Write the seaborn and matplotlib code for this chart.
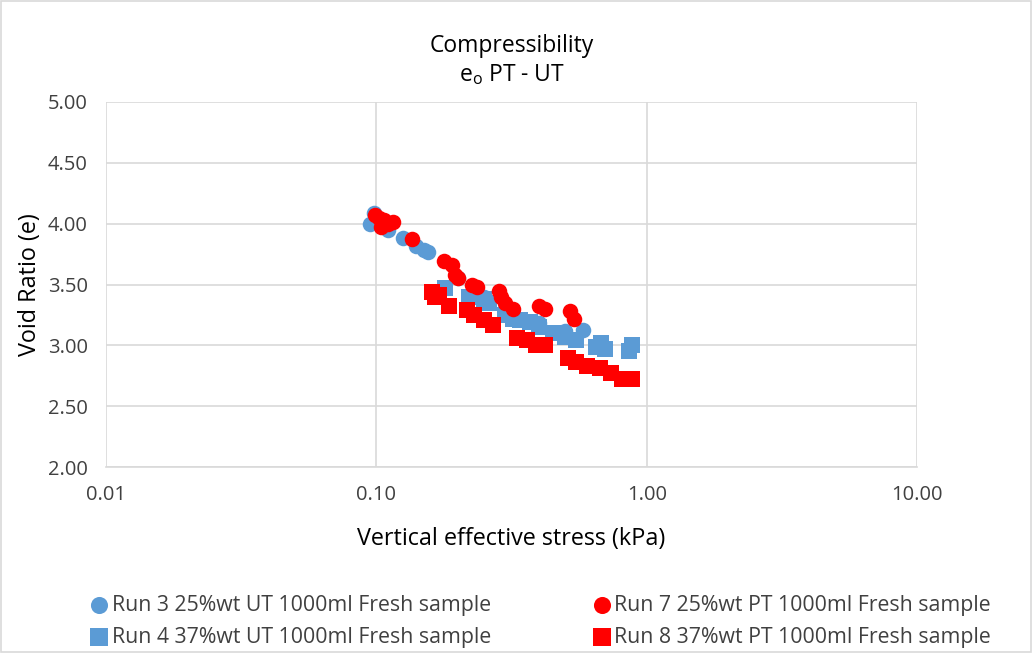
import numpy as np
import pandas as pd
import matplotlib
matplotlib.use("Agg")
import matplotlib.pyplot as plt
import seaborn as sns
from matplotlib.ticker import FixedLocator, FuncFormatter, NullLocator

# Run 3 25%wt UT (blue circles)
run3_x = [0.095, 0.098, 0.103, 0.11, 0.125, 0.14, 0.15, 0.155, 0.2, 0.25, 0.3, 0.4, 0.5, 0.58]
run3_e = [4.00, 4.09, 4.02, 3.95, 3.88, 3.82, 3.78, 3.77, 3.55, 3.40, 3.30, 3.18, 3.12, 3.13]

# Run 4 37%wt UT (blue squares)
run4_x = [0.18, 0.22, 0.25, 0.26, 0.3, 0.32, 0.34, 0.37, 0.4, 0.45, 0.5, 0.55, 0.65, 0.68, 0.7, 0.86, 0.88]
run4_e = [3.47, 3.40, 3.38, 3.35, 3.25, 3.22, 3.21, 3.19, 3.15, 3.10, 3.07, 3.04, 2.99, 3.02, 2.97, 2.95, 3.00]

# Run 7 25%wt PT (red circles)
run7_x = [0.099, 0.102, 0.104, 0.107, 0.11, 0.115, 0.135, 0.178, 0.19, 0.195, 0.2,
          0.225, 0.235, 0.285, 0.29, 0.3, 0.32, 0.4, 0.42, 0.52, 0.54]
run7_e = [4.07, 4.05, 3.97, 4.03, 4.00, 4.01, 3.87, 3.69, 3.66, 3.58, 3.55,
          3.50, 3.48, 3.45, 3.40, 3.35, 3.30, 3.32, 3.30, 3.28, 3.22]

# Run 8 37%wt PT (red squares)
run8_x = [0.16, 0.165, 0.17, 0.186, 0.217, 0.23, 0.25, 0.27, 0.33, 0.36, 0.39, 0.42,
          0.51, 0.55, 0.6, 0.67, 0.74, 0.81, 0.88]
run8_e = [3.44, 3.40, 3.41, 3.32, 3.29, 3.25, 3.21, 3.17, 3.06, 3.04, 3.00, 3.00,
          2.90, 2.86, 2.83, 2.81, 2.77, 2.72, 2.72]

labels = ["Run 3 25%wt UT 1000ml Fresh sample", "Run 4 37%wt UT 1000ml Fresh sample",
          "Run 7 25%wt PT 1000ml Fresh sample", "Run 8 37%wt PT 1000ml Fresh sample"]
x_ticks = [0.01, 0.1, 1, 10]
y_ticks = [2.0, 2.5, 3.0, 3.5, 4.0, 4.5, 5.0]

sns.set_style("white")
plt.rcParams["font.family"] = ["Open Sans", "DejaVu Sans"]
plt.rcParams["mathtext.fontset"] = "custom"
plt.rcParams["mathtext.rm"] = "Open Sans"

blue = "#5B9BD5"
red = "#FF0000"
series = [(run3_x, run3_e, blue, "o"), (run4_x, run4_e, blue, "s"),
          (run7_x, run7_e, red, "o"), (run8_x, run8_e, red, "s")]

fig = plt.figure(figsize=(10.32, 6.53), dpi=100)
ax = fig.add_axes([0.1027, 0.2848, 0.7859, 0.559])

for (xs, es, c, m), lab in zip(series, labels):
    df = pd.DataFrame({"stress": xs, "e": es})
    sns.scatterplot(data=df, x="stress", y="e", ax=ax, color=c, marker=m,
                    s=125, linewidth=0, label=lab, legend=False)

ax.set_xscale("log")
ax.set_xlim(0.01, 10)
ax.set_ylim(2.0, 5.0)
ax.xaxis.set_major_locator(FixedLocator(x_ticks))
ax.xaxis.set_minor_locator(NullLocator())
ax.xaxis.set_major_formatter(FuncFormatter(lambda v, p: f"{v:.2f}"))
ax.set_yticks(y_ticks)
ax.yaxis.set_major_formatter(FuncFormatter(lambda v, p: f"{v:.2f}"))
ax.grid(True, color="#D9D9D9", linewidth=1.2)
ax.set_axisbelow(True)
for s in ["top", "right", "left"]:
    ax.spines[s].set_visible(False)
ax.spines["bottom"].set_color("#D9D9D9")
ax.spines["bottom"].set_linewidth(1.2)
ax.tick_params(axis="both", length=0, labelsize=14.5, colors="#404040")
ax.tick_params(axis="x", pad=13)
ax.tick_params(axis="y", pad=13)

ax.set_xlabel("Vertical effective stress (kPa)", fontsize=16.8, color="black", labelpad=16)
ax.set_ylabel("Void Ratio (e)", fontsize=16.8, color="black", labelpad=4)
ax.set_title("Compressibility\ne$_\\mathregular{o}$ PT - UT", fontsize=16.5, color="black",
             pad=15, linespacing=1.2)

handles, labs = ax.get_legend_handles_labels()
leg = fig.legend(handles, labs, ncol=2, loc="lower center", bbox_to_anchor=(0.523, -0.021),
                 frameon=False, fontsize=15.3, handletextpad=0.1, columnspacing=4.7,
                 labelspacing=0.5, markerscale=1.1, handlelength=1.0, labelcolor="#404040")

fig.patches.append(plt.Rectangle((0.001, 0.001), 0.998, 0.998, transform=fig.transFigure,
                                 fill=False, edgecolor="#D9D9D9", linewidth=1.2))

fig.savefig("out.png", dpi=100)
